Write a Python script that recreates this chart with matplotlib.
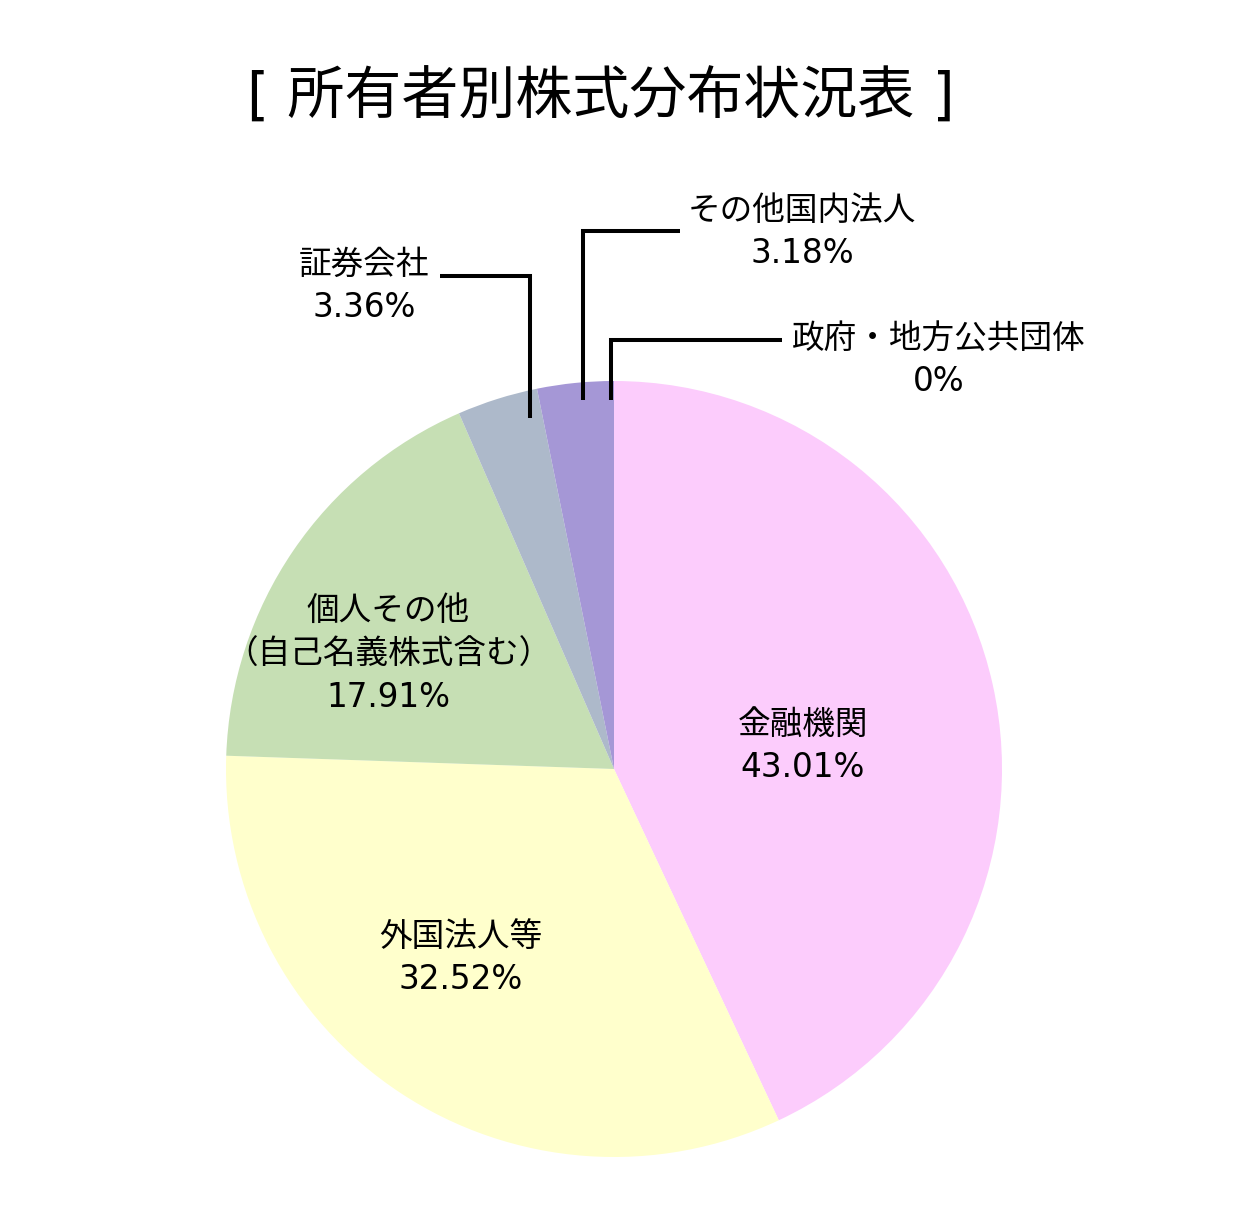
import matplotlib.pyplot as plt

plt.rcParams['font.family'] = ['DejaVu Sans', 'Noto Sans CJK JP']

# データ（所有者別株式分布）
labels = ['金融機関', '外国法人等', '個人その他\n（自己名義株式含む）', '証券会社', 'その他国内法人', '政府・地方公共団体']
shares = [43.01, 32.52, 17.91, 3.36, 3.18, 0]
pct_text = ['43.01%', '32.52%', '17.91%', '3.36%', '3.18%', '0%']
colors = ['#FCCCFC', '#FFFFCC', '#C6DFB4', '#ADB9CA', '#A597D6', '#8FA8D8']

W, H = 1253, 1223
fig = plt.figure(figsize=(W / 100, H / 100), dpi=100)
ax = fig.add_axes([0, 0, 1, 1])

def Y(y):
    # ピクセル座標（上から）→ 軸座標
    return H - y

cx, cy, r = 614, 769, 388
ax.pie(shares, colors=colors, startangle=90, counterclock=False,
       center=(cx, Y(cy)), radius=r, frame=True,
       wedgeprops=dict(linewidth=0))
ax.set_xlim(0, W)
ax.set_ylim(0, H)
ax.set_aspect('equal')
ax.axis('off')

fs = 23.5
ls = 1.4
# 円の内側のラベル
ax.text(803, Y(746), labels[0] + '\n' + pct_text[0], ha='center', va='center',
        fontsize=fs, linespacing=ls)
ax.text(461, Y(958), labels[1] + '\n' + pct_text[1], ha='center', va='center',
        fontsize=fs, linespacing=ls)
ax.text(388, Y(654), labels[2] + '\n' + pct_text[2], ha='center', va='center',
        fontsize=fs, linespacing=ls)

# 引き出し線付きラベル
lw = 2.9
ax.plot([530, 530, 440], [Y(418), Y(276), Y(276)], color='black', lw=lw,
        solid_capstyle='butt', solid_joinstyle='miter')
ax.text(364, Y(286), labels[3] + '\n' + pct_text[3], ha='center', va='center',
        fontsize=fs, linespacing=ls)

ax.plot([583, 583, 680], [Y(400), Y(231), Y(231)], color='black', lw=lw,
        solid_capstyle='butt', solid_joinstyle='miter')
ax.text(802, Y(232), labels[4] + '\n' + pct_text[4], ha='center', va='center',
        fontsize=fs, linespacing=ls)

ax.plot([611, 611, 782], [Y(400), Y(340), Y(340)], color='black', lw=lw,
        solid_capstyle='butt', solid_joinstyle='miter')
ax.text(939, Y(360), labels[5] + '\n' + pct_text[5], ha='center', va='center',
        fontsize=fs, linespacing=ls)

# タイトル
ax.text(601, Y(97), '[ 所有者別株式分布状況表 ]', ha='center', va='center', fontsize=41)

fig.savefig('out.png', dpi=100)
